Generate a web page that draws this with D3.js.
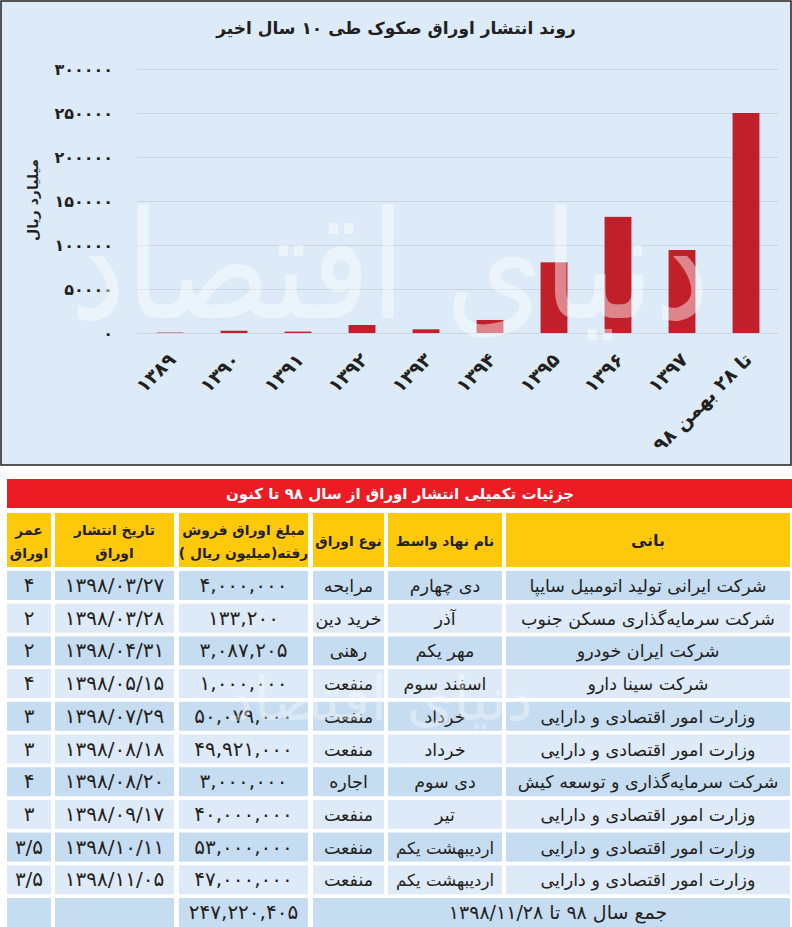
<!DOCTYPE html>
<html>
<head>
<meta charset="utf-8">
<script src="https://cdn.jsdelivr.net/npm/d3@7"></script>
<style>
body { margin:0; background:#fff; }
svg { display:block; font-family:"DejaVu Sans", sans-serif; }
</style>
</head>
<body>
<svg id="chart" width="792" height="927"></svg>
<script>
// chart data
const years = ["1389","1390","1391","1392","1393","1394","1395","1396","1397","تا 28 بهمن 98"];
const issued = [500, 2600, 1600, 9100, 4200, 14800, 80300, 132000, 94300, 250000];
const yTicks = [0, 50000, 100000, 150000, 200000, 250000, 300000];

// table data
const headers = [["بانی"], ["نام نهاد واسط"], ["نوع اوراق"], ["مبلغ اوراق فروش", "رفته(میلیون ریال )"], ["تاریخ انتشار", "اوراق"], ["عمر", "اوراق"]];
const issuers = ["شرکت ایرانی تولید اتومبیل سایپا", "شرکت سرمایه‌گذاری مسکن جنوب", "شرکت ایران خودرو", "شرکت سینا دارو",
  "وزارت امور اقتصادی و دارایی", "وزارت امور اقتصادی و دارایی", "شرکت سرمایه‌گذاری و توسعه کیش",
  "وزارت امور اقتصادی و دارایی", "وزارت امور اقتصادی و دارایی", "وزارت امور اقتصادی و دارایی"];
const agents = ["دی چهارم", "آذر", "مهر یکم", "اسفند سوم", "خرداد", "خرداد", "دی سوم", "تیر", "اردیبهشت یکم", "اردیبهشت یکم"];
const types = ["مرابحه", "خرید دین", "رهنی", "منفعت", "منفعت", "منفعت", "اجاره", "منفعت", "منفعت", "منفعت"];
const amounts = [4000000, 133200, 3087205, 1000000, 50079000, 49921000, 3000000, 40000000, 53000000, 47000000];
const dates = ["1398/03/27", "1398/03/28", "1398/04/31", "1398/05/15", "1398/07/29", "1398/08/18", "1398/08/20", "1398/09/17", "1398/10/11", "1398/11/05"];
const terms = ["4", "2", "2", "4", "3", "3", "4", "3", "3/5", "3/5"];
const totalAmount = 247220405;
const totalLabel = "جمع سال 98 تا 1398/11/28";

const fa = s => String(s).replace(/\d/g, d => "۰۱۲۳۴۵۶۷۸۹"[d]);
const ink = "#231f20";

const svg = d3.select("#chart");

// ---- chart panel ----
svg.append("rect").attr("x",1).attr("y",1).attr("width",790).attr("height",464)
  .attr("fill","#dcebf7").attr("stroke",ink).attr("stroke-width",1.5);

svg.append("text").attr("x",396).attr("y",34).attr("text-anchor","middle")
  .attr("direction","rtl").attr("font-size",17).attr("font-weight","bold").attr("fill",ink)
  .text(fa("روند انتشار اوراق صکوک طی 10 سال اخیر"));

const x = d3.scaleBand().domain(years).range([138,778]).paddingInner(0.58).paddingOuter(0.29);
const y = d3.scaleLinear().domain([0,300000]).range([333,69]);

const grid = svg.append("g").attr("transform","translate(778,0)")
  .call(d3.axisLeft(y).tickValues(yTicks).tickSize(641).tickFormat(""));
grid.select(".domain").remove();
grid.selectAll("line").attr("stroke","#c9d4de");

const yAxis = svg.append("g").attr("transform","translate(113,0)")
  .call(d3.axisLeft(y).tickValues(yTicks).tickSize(0).tickPadding(0).tickFormat(d => fa(d)));
yAxis.select(".domain").remove();
yAxis.selectAll("text").attr("font-size",16).attr("font-weight","bold").attr("fill",ink)
  .attr("font-family","DejaVu Sans");

svg.append("text").attr("transform","translate(38,200) rotate(-90)").attr("text-anchor","middle")
  .attr("direction","rtl").attr("font-size",14).attr("font-weight","bold").attr("fill",ink)
  .text("میلیارد ریال");

svg.append("g").selectAll("rect").data(issued).join("rect")
  .attr("x",(d,i) => x(years[i])).attr("width",x.bandwidth())
  .attr("y",d => y(d)).attr("height",d => y(0)-y(d))
  .attr("fill","#c1202b");

const xAxis = svg.append("g").attr("transform","translate(0,333)")
  .call(d3.axisBottom(x).tickSize(0).tickFormat(d => fa(d)));
xAxis.select(".domain").remove();
xAxis.selectAll("text").attr("text-anchor","end").attr("dy",null).attr("y",null)
  .attr("transform","translate(7,28) rotate(-45)")
  .attr("font-size",19).attr("font-weight","bold").attr("fill",ink).attr("font-family","DejaVu Sans");

// watermark
svg.append("text").attr("x",390).attr("y",318).attr("text-anchor","middle").attr("direction","rtl")
  .attr("font-size",150).attr("textLength",640).attr("lengthAdjust","spacingAndGlyphs")
  .attr("fill","#fff").attr("opacity",0.45).text("دنیای اقتصاد");

// ---- table ----
const colX = [[506,790],[388,502],[313,384],[179,308],[55,174],[7,51]];
svg.append("rect").attr("x",7).attr("y",479).attr("width",785).attr("height",29).attr("fill","#ed1c24");
svg.append("text").attr("x",400).attr("y",499).attr("text-anchor","middle").attr("direction","rtl")
  .attr("font-size",15).attr("font-weight","bold").attr("fill","#fff")
  .text(fa("جزئیات تکمیلی انتشار اوراق از سال 98 تا کنون"));

const head = svg.append("g").selectAll("g").data(headers).join("g");
head.append("rect").attr("x",(d,i) => colX[i][0]).attr("y",513)
  .attr("width",(d,i) => colX[i][1]-colX[i][0]).attr("height",54).attr("fill","#ffc90b");
head.each(function(lines, i) {
  const cx = (colX[i][0]+colX[i][1])/2;
  const y0 = lines.length === 1 ? 546 : 535;
  d3.select(this).selectAll("text").data(lines).join("text")
    .attr("x",cx).attr("y",(d,j) => y0 + j*23).attr("text-anchor","middle").attr("direction","rtl")
    .attr("font-size",i === 0 ? 16 : 13.8).attr("font-weight","bold").attr("fill",ink).text(d => d);
});

const rowTop = i => 571 + i*32.7;
const rows = svg.append("g").selectAll("g").data(issuers).join("g");
rows.each(function(issuer, i) {
  const g = d3.select(this);
  const cells = [issuer, agents[i], types[i], fa(d3.format(",")(amounts[i])), fa(dates[i]), fa(terms[i])];
  const fill = i % 2 === 0 ? "#c6dcf1" : "#deeaf7";
  cells.forEach((c, k) => {
    g.append("rect").attr("x",colX[k][0]).attr("y",rowTop(i)).attr("width",colX[k][1]-colX[k][0])
      .attr("height",29).attr("fill",fill);
    g.append("text").attr("x",(colX[k][0]+colX[k][1])/2).attr("y",rowTop(i)+21)
      .attr("text-anchor","middle").attr("direction", k < 3 ? "rtl" : null)
      .attr("font-size",k >= 3 ? 20 : (k === 1 && c.length > 10 ? 16.5 : 17.5))
      .attr("letter-spacing",k === 3 ? 1 : null).attr("fill",ink).text(c);
  });
});

// total row
const tTop = rowTop(10);
const tot = svg.append("g");
[[7,51],[55,174],[179,308],[313,790]].forEach(c => {
  tot.append("rect").attr("x",c[0]).attr("y",tTop).attr("width",c[1]-c[0]).attr("height",32).attr("fill","#c6dcf1");
});
tot.append("text").attr("x",243.5).attr("y",tTop+21).attr("text-anchor","middle").attr("letter-spacing",1)
  .attr("font-size",20).attr("fill",ink).text(fa(d3.format(",")(totalAmount)));
tot.append("text").attr("x",558).attr("y",tTop+21).attr("text-anchor","middle").attr("direction","rtl")
  .attr("font-size",19).attr("fill",ink).text(fa(totalLabel));

// faint watermark over table
svg.append("text").attr("x",380).attr("y",720).attr("text-anchor","middle").attr("direction","rtl")
  .attr("font-size",60).attr("fill","#fff").attr("opacity",0.35).text("دنیای اقتصاد");
</script>
</body>
</html>
